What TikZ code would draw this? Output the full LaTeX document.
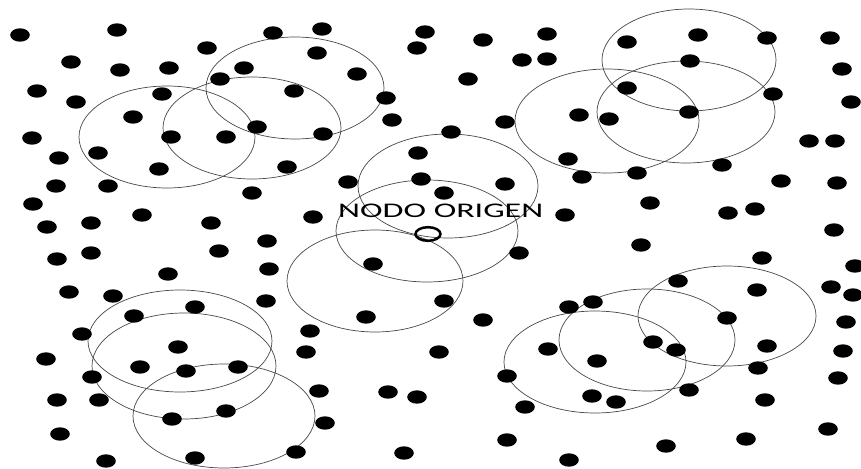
\documentclass[tikz,border=0pt]{standalone}
\usepackage{fontspec}
\setsansfont{Carlito}
\begin{document}
\begin{tikzpicture}[x=1pt,y=-1pt,
  rangecircle/.style={draw=black!72,line width=0.7pt},
  sensordot/.style={fill=black},
  originmark/.style={draw=black,line width=2.5pt},
  labeltext/.style={inner sep=0pt,anchor=base west,text=black}]
\useasboundingbox (0,0) rectangle (861,468);
\begin{scope}
\clip (0,0) rectangle (861,468);
% range circles
\foreach \cx/\cy/\rx/\ry in {167/137/88/51, 252/128/89/51, 295/88/89/51,
  448/186/90/52, 427/231/91/51, 375/281/88/51,
  689/60/87/51, 686/112/89/51, 607/121/92/52,
  180/341/92/51, 184/366/92/53, 224/416/91/52,
  727/316/89/50, 647/340/88/51, 595/362/91/51}
  \draw[rangecircle] (\cx,\cy) ellipse [x radius=\rx pt, y radius=\ry pt];
% sensor nodes
\foreach \px/\py in {20/35,117/30,273/33,207/48,71/62,120/70,169/68,244/68,220/79,37/91,162/94,76/102,294/91,133/117,32/138,171/137,226/137,257/127,59/158,98/153,159/169,287/167,56/186,108/186,252/193,33/204,142/215,47/227,91/223,211/223,
322/29,425/32,417/48,483/40,547/34,522/60,547/59,317/53,357/74,386/98,468/79,392/120,505/122,579/115,323/134,451/132,418/153,348/182,421/179,505/184,444/193,568/159,582/177,313/217,565/215,
627/42,698/35,767/38,830/38,690/61,842/69,627/88,773/94,851/102,609/119,689/112,809/141,835/141,637/173,722/165,781/181,837/183,650/203,728/213,755/209,834/230,
57/259,91/253,219/251,267/241,168/274,269/269,69/292,113/296,266/301,195/307,134/316,82/334,178/347,46/359,140/367,186/371,238/367,92/377,57/400,99/400,172/419,226/411,60/434,106/461,195/458,296/452,
373/264,519/253,444/301,366/317,483/320,569/307,310/331,306/352,439/352,548/349,507/376,319/391,388/392,417/397,525/407,325/423,404/453,507/440,569/460,
641/245,762/258,855/266,678/281,757/290,831/287,853/295,593/302,727/318,846/322,653/342,676/350,767/346,843/351,597/361,758/368,838/378,689/390,592/396,616/402,765/400,828/429,746/439,666/446}
  \fill[sensordot] (\px,\py) ellipse [x radius=9.8pt, y radius=6.7pt];
\end{scope}
% origin node
\draw[originmark] (428,234) ellipse [x radius=12.5pt, y radius=6.8pt];
\coordinate (origin) at (428,234);
\node[labeltext] (label) at (338,217) {\resizebox{205pt}{13.5pt}{\sffamily NODO ORIGEN}};
\end{tikzpicture}
\end{document}
